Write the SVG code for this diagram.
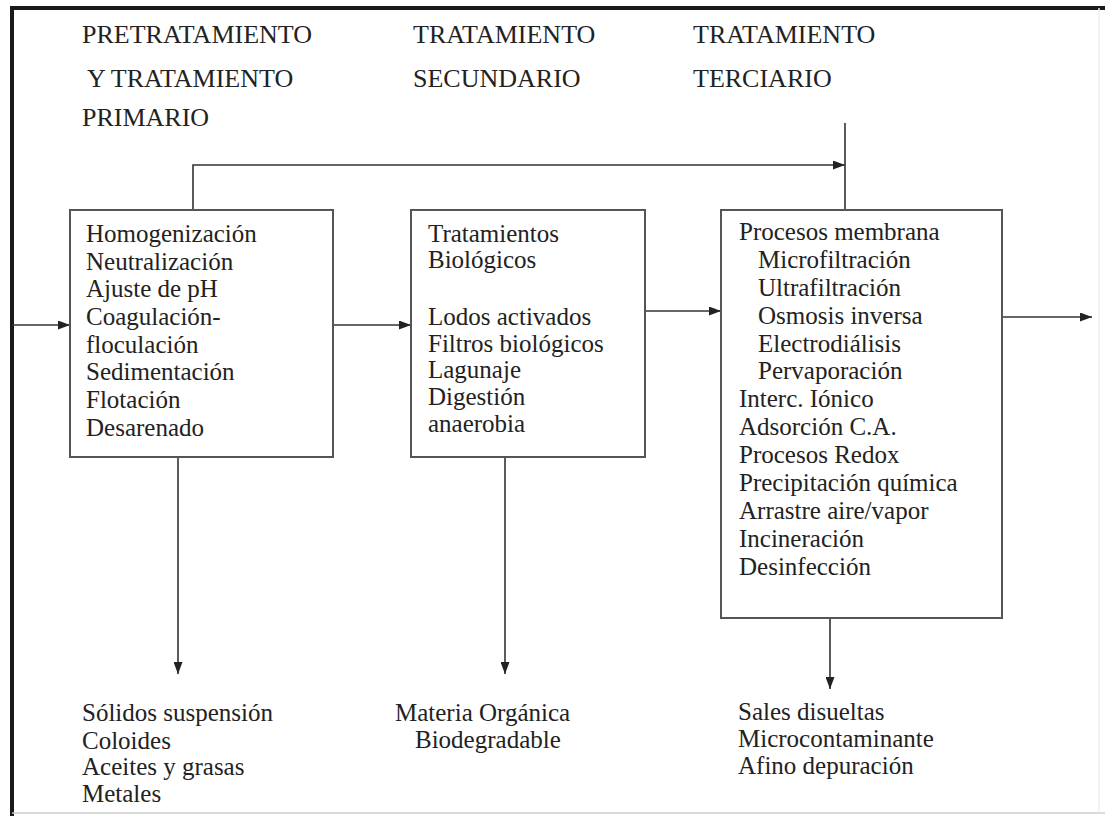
<svg xmlns="http://www.w3.org/2000/svg" width="1105" height="816" viewBox="0 0 1105 816">
<style>
text{font-family:"Liberation Serif","Times New Roman",serif;font-size:25px;fill:#222}
.hd{font-size:26px}
.box{fill:#fff;stroke:#555;stroke-width:2}
.ln{fill:none;stroke:#333;stroke-width:1.6}
.frame{fill:none;stroke:#1a1a1a;stroke-width:4}
</style>
<defs>
<marker id="ah" viewBox="0 0 12 9" refX="12" refY="4.5" markerWidth="12" markerHeight="9" markerUnits="userSpaceOnUse" orient="auto">
<path d="M0,0 L12,4.5 L0,9 Z" fill="#222"/>
</marker>
</defs>
<rect width="1105" height="816" fill="#fff"/>
<g id="frame">
<line x1="12" y1="8" x2="1105" y2="8" class="frame"/>
<line x1="12" y1="6" x2="12" y2="816" class="frame"/>
<line x1="12" y1="813" x2="1105" y2="813" stroke="#ccc" stroke-width="1.5"/>
<line x1="1099" y1="8" x2="1099" y2="813" stroke="#eee" stroke-width="1.5"/>
</g>
<g id="headers">
<text class="hd" x="82" y="43">PRETRATAMIENTO</text>
<text class="hd" x="87" y="87">Y TRATAMIENTO</text>
<text class="hd" x="82" y="126">PRIMARIO</text>
<text class="hd" x="413" y="43">TRATAMIENTO</text>
<text class="hd" x="413" y="87">SECUNDARIO</text>
<text class="hd" x="693" y="43">TRATAMIENTO</text>
<text class="hd" x="693" y="87">TERCIARIO</text>
</g>
<g id="connectors">
<line x1="12" y1="325" x2="70" y2="325" class="ln" marker-end="url(#ah)"/>
<line x1="333" y1="325" x2="411" y2="325" class="ln" marker-end="url(#ah)"/>
<line x1="645" y1="311" x2="721" y2="311" class="ln" marker-end="url(#ah)"/>
<line x1="1002" y1="317" x2="1092" y2="317" class="ln" marker-end="url(#ah)"/>
<polyline points="193,210 193,165 845,165" class="ln" marker-end="url(#ah)"/>
<line x1="845" y1="123" x2="845" y2="210" class="ln"/>
<line x1="178" y1="457" x2="178" y2="674" class="ln" marker-end="url(#ah)"/>
<line x1="505" y1="457" x2="505" y2="674" class="ln" marker-end="url(#ah)"/>
<line x1="830" y1="618" x2="830" y2="689" class="ln" marker-end="url(#ah)"/>
</g>
<g id="primario">
<rect x="70" y="210" width="263" height="247" class="box"/>
<text x="86" y="242">Homogenización</text>
<text x="86" y="270">Neutralización</text>
<text x="86" y="297">Ajuste de pH</text>
<text x="86" y="325">Coagulación-</text>
<text x="86" y="353">floculación</text>
<text x="86" y="380">Sedimentación</text>
<text x="86" y="408">Flotación</text>
<text x="86" y="436">Desarenado</text>
</g>
<g id="secundario">
<rect x="411" y="210" width="234" height="247" class="box"/>
<text x="428" y="242">Tratamientos</text>
<text x="428" y="268">Biológicos</text>
<text x="428" y="325">Lodos activados</text>
<text x="428" y="352">Filtros biológicos</text>
<text x="428" y="378">Lagunaje</text>
<text x="428" y="405">Digestión</text>
<text x="428" y="432">anaerobia</text>
</g>
<g id="terciario">
<rect x="721" y="210" width="281" height="408" class="box"/>
<text x="739" y="240">Procesos membrana</text>
<text x="758" y="268">Microfiltración</text>
<text x="758" y="296">Ultrafiltración</text>
<text x="758" y="324">Osmosis inversa</text>
<text x="758" y="352">Electrodiálisis</text>
<text x="758" y="379">Pervaporación</text>
<text x="739" y="407">Interc. Iónico</text>
<text x="739" y="435">Adsorción C.A.</text>
<text x="739" y="463">Procesos Redox</text>
<text x="739" y="491">Precipitación química</text>
<text x="739" y="519">Arrastre aire/vapor</text>
<text x="739" y="547">Incineración</text>
<text x="739" y="575">Desinfección</text>
</g>
<g id="salida-primario">
<text x="82" y="721">Sólidos suspensión</text>
<text x="82" y="749">Coloides</text>
<text x="82" y="775">Aceites y grasas</text>
<text x="82" y="802">Metales</text>
</g>
<g id="salida-secundario">
<text x="395" y="721">Materia Orgánica</text>
<text x="415" y="748">Biodegradable</text>
</g>
<g id="salida-terciario">
<text x="738" y="720">Sales disueltas</text>
<text x="738" y="747">Microcontaminante</text>
<text x="738" y="774">Afino depuración</text>
</g>
</svg>
